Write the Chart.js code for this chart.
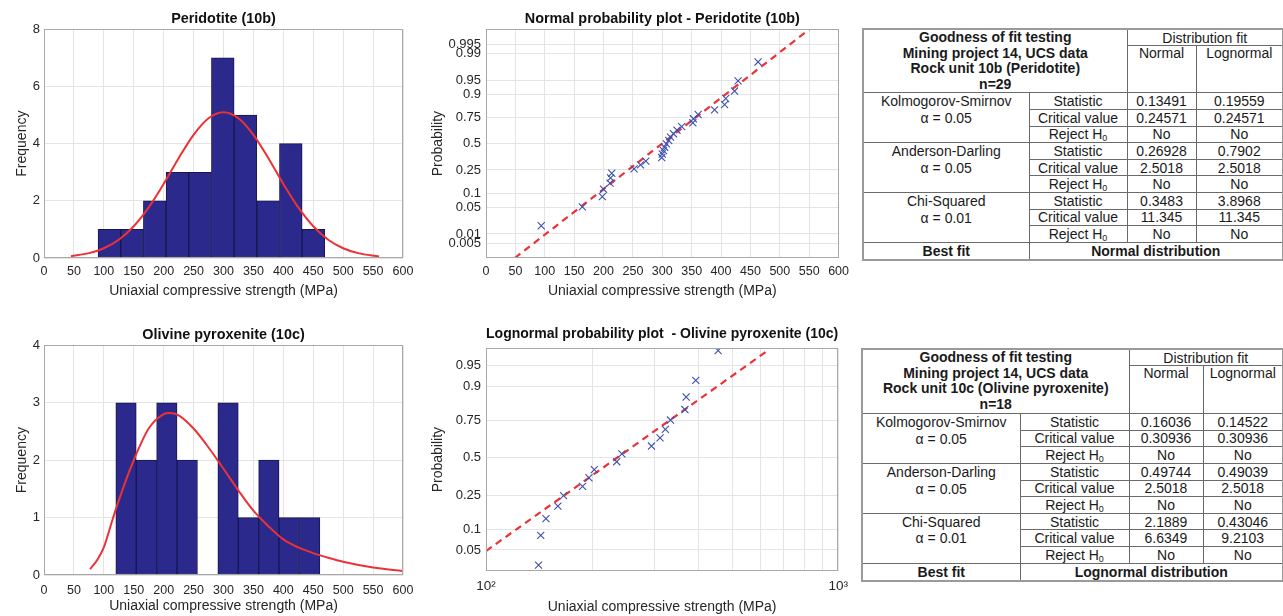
<!DOCTYPE html>
<html>
<head>
<meta charset="utf-8">
<script src="https://cdn.jsdelivr.net/npm/chart.js@4.4.1/dist/chart.umd.min.js"></script>
<style>
  body { margin: 0; background: #fff; }
  #wrap { position: relative; width: 1283px; height: 616px; overflow: hidden; font-family: "Liberation Sans", Arial, sans-serif; }
  canvas { position: absolute; }
  table.gof { position: absolute; border-collapse: collapse; table-layout: fixed; border: 2px solid #9a9a9a; color: #1a1a1a; font-size: 14px; }
  table.gof td { border: 1px solid #6a6a6a; padding: 0; text-align: center; line-height: 14px; white-space: nowrap; overflow: hidden; }
  table.gof td.head { font-weight: bold; vertical-align: top; line-height: 15.6px; }
  table.gof td.top { vertical-align: top; line-height: 15.6px; }
  table.gof td.b { font-weight: bold; }
  table.gof sub { font-size: 9px; line-height: 0; vertical-align: -2px; }
</style>
</head>
<body>
<div id="wrap">
  <canvas id="histPeri" width="425" height="305" style="left:0;top:0"></canvas>
  <canvas id="probPeri" width="430" height="305" style="left:425px;top:0"></canvas>
  <canvas id="histOliv" width="425" height="306" style="left:0;top:310px"></canvas>
  <canvas id="probOliv" width="430" height="306" style="left:425px;top:310px"></canvas>
  <table class="gof" id="tabPeri" style="left:862px;top:28px"></table>
  <table class="gof" id="tabOliv" style="left:861px;top:348px"></table>
</div>
<script>
// Peridotite (10b) histogram
const periBinCenters = [109.3, 147.2, 185.1, 223.0, 260.9, 298.8, 336.7, 374.6, 412.5, 450.4];
const periCounts = [1, 1, 2, 3, 3, 7, 5, 2, 4, 1];
const periFitX = [45, 75, 100, 125, 150, 175, 200, 225, 250, 275, 300, 325, 350, 375, 400, 425, 450, 475, 500, 525, 560];
const periFitY = [0.06, 0.17, 0.34, 0.64, 1.11, 1.77, 2.59, 3.49, 4.31, 4.89, 5.1, 4.89, 4.31, 3.49, 2.59, 1.77, 1.11, 0.64, 0.34, 0.17, 0.05];

// Peridotite normal probability plot
const periUcs = [94, 164, 198, 200, 211, 212, 214, 252, 263, 272, 299, 300, 302, 304, 307, 311, 314, 319, 325, 333, 352, 353, 361, 389, 406, 408, 423, 429, 463];
const periProb = [0.0172, 0.0517, 0.0862, 0.1207, 0.1552, 0.1897, 0.2241, 0.2586, 0.2931, 0.3276, 0.3621, 0.3966, 0.4310, 0.4655, 0.5000,
  0.5345, 0.5690, 0.6034, 0.6379, 0.6724, 0.7069, 0.7414, 0.7759, 0.8103, 0.8448, 0.8793, 0.9138, 0.9483, 0.9828];
const periLineX = [49, 551];
const periLineP = [0.0016, 0.9985];
const periProbTicks = [0.005, 0.01, 0.05, 0.1, 0.25, 0.5, 0.75, 0.9, 0.95, 0.99, 0.995];

// Olivine pyroxenite (10c) histogram
const olivBinCenters = [137.1, 171.2, 205.3, 239.4, 273.5, 307.6, 341.7, 375.8, 409.9, 444.0];
const olivCounts = [3, 2, 3, 2, 0, 3, 1, 2, 1, 1];
const olivFitX = [77, 90, 100, 115, 125, 150, 175, 200, 210, 225, 250, 275, 300, 325, 350, 375, 400, 425, 450, 475, 500, 550, 600];
const olivFitY = [0.1, 0.28, 0.48, 0.98, 1.3, 2.0, 2.55, 2.8, 2.82, 2.78, 2.55, 2.22, 1.85, 1.47, 1.12, 0.85, 0.62, 0.48, 0.38, 0.3, 0.23, 0.13, 0.07];

// Olivine pyroxenite lognormal probability plot
const olivUcs = [141, 143, 148, 160, 166, 188, 196, 203, 235, 243, 295, 312, 323, 334, 367, 370, 394, 456];
const olivProb = [0.0278, 0.0833, 0.1389, 0.1944, 0.2500, 0.3056, 0.3611, 0.4167, 0.4722, 0.5278, 0.5833, 0.6389, 0.6944, 0.7500,
  0.8056, 0.8611, 0.9167, 0.9722];
const olivLineX = [100, 638];
const olivLineP = [0.0482, 0.9736];
const olivProbTicks = [0.05, 0.1, 0.25, 0.5, 0.75, 0.9, 0.95];
const olivLogTicks = [100, 200, 300, 400, 500, 600, 700, 800, 900, 1000];

// goodness of fit tables
const gofTests = ['Kolmogorov-Smirnov', 'Anderson-Darling', 'Chi-Squared'];
const gofAlphas = ['α = 0.05', 'α = 0.05', 'α = 0.01'];
const gofRows = ['Statistic', 'Critical value', 'Reject H<sub>0</sub>'];
const periHeader = ['Goodness of fit testing', 'Mining project 14, UCS data', 'Rock unit 10b (Peridotite)', 'n=29'];
const periNormal = ['0.13491', '0.24571', 'No', '0.26928', '2.5018', 'No', '0.3483', '11.345', 'No'];
const periLognormal = ['0.19559', '0.24571', 'No', '0.7902', '2.5018', 'No', '3.8968', '11.345', 'No'];
const periBest = 'Normal distribution';
const olivHeader = ['Goodness of fit testing', 'Mining project 14, UCS data', 'Rock unit 10c (Olivine pyroxenite)', 'n=18'];
const olivNormal = ['0.16036', '0.30936', 'No', '0.49744', '2.5018', 'No', '2.1889', '6.6349', 'No'];
const olivLognormal = ['0.14522', '0.30936', 'No', '0.49039', '2.5018', 'No', '0.43046', '9.2103', 'No'];
const olivBest = 'Lognormal distribution';

// inverse normal cdf (Acklam)
function probit(p) {
  const a = [-39.69683028665376, 220.9460984245205, -275.9285104469687, 138.3577518672690, -30.66479806614716, 2.506628277459239];
  const b = [-54.47609879822406, 161.5858368580409, -155.6989798598866, 66.80131188771972, -13.28068155288572];
  const c = [-0.007784894002430293, -0.3223964580411365, -2.400758277161838, -2.549732539343734, 4.374664141464968, 2.938163982698783];
  const d = [0.007784695709041462, 0.3224671290700398, 2.445134137142996, 3.754408661907416];
  const lo = 0.02425;
  let q, r;
  if (p < lo) {
    q = Math.sqrt(-2 * Math.log(p));
    return (((((c[0]*q+c[1])*q+c[2])*q+c[3])*q+c[4])*q+c[5]) / ((((d[0]*q+d[1])*q+d[2])*q+d[3])*q+1);
  }
  if (p > 1 - lo) {
    q = Math.sqrt(-2 * Math.log(1 - p));
    return -(((((c[0]*q+c[1])*q+c[2])*q+c[3])*q+c[4])*q+c[5]) / ((((d[0]*q+d[1])*q+d[2])*q+d[3])*q+1);
  }
  q = p - 0.5; r = q * q;
  return (((((a[0]*r+a[1])*r+a[2])*r+a[3])*r+a[4])*r+a[5])*q / (((((b[0]*r+b[1])*r+b[2])*r+b[3])*r+b[4])*r+1);
}

Chart.defaults.font.family = '"Liberation Sans", Arial, sans-serif';
Chart.defaults.color = '#262626';

const GRID = '#e4e4e4';
const RED = '#ec3236';

// grey box round the plot area, like matlab
Chart.register({
  id: 'axbox',
  afterDraw(chart) {
    const a = chart.chartArea, ctx = chart.ctx;
    ctx.save();
    ctx.strokeStyle = '#a8a8a8';
    ctx.lineWidth = 1;
    ctx.strokeRect(Math.round(a.left) + 0.5, Math.round(a.top) + 0.5, Math.round(a.width) - 1, Math.round(a.height) - 1);
    ctx.restore();
  }
});

const pts = (xs, ys) => xs.map((x, i) => ({ x: x, y: ys[i] }));
const probPts = (xs, ps) => xs.map((x, i) => ({ x: x, y: probit(ps[i]) }));

function xTitle(pb) {
  return { display: true, text: 'Uniaxial compressive strength (MPa)', font: { size: 14 }, padding: { top: 0, bottom: pb } };
}
function plotTitle(text, pad) {
  return { display: true, text: text, fullSize: false, font: { size: 14.4, weight: 'bold' }, color: '#111', padding: pad };
}

function histChart(id, title, centers, counts, fitX, fitY, yMax, yStep, lay) {
  new Chart(document.getElementById(id), {
    type: 'bar',
    data: {
      datasets: [{
        type: 'line',
        data: pts(fitX, fitY),
        borderColor: RED,
        borderWidth: 2,
        pointRadius: 0,
        cubicInterpolationMode: 'monotone',
        order: 0
      }, {
        type: 'bar',
        data: pts(centers, counts),
        backgroundColor: '#2b2a8c',
        borderColor: '#17164f',
        borderWidth: 1,
        borderSkipped: false,
        barPercentage: 1,
        categoryPercentage: 1,
        order: 1
      }]
    },
    options: {
      responsive: false,
      animation: false,
      layout: { padding: { left: 0, right: lay.right, top: 0, bottom: 0 } },
      plugins: {
        legend: { display: false },
        tooltip: { enabled: false },
        title: plotTitle(title, lay.title)
      },
      scales: {
        x: {
          type: 'linear', min: 0, max: 600, offset: false,
          grid: { color: GRID, drawTicks: false, offset: false },
          border: { display: false },
          ticks: { stepSize: 50, autoSkip: false, maxRotation: 0, padding: lay.tp, font: { size: 12.5 } },
          title: xTitle(lay.xpb),
          afterFit: s => { s.height = lay.xh; }
        },
        y: {
          min: 0, max: yMax,
          grid: { color: GRID, drawTicks: false },
          border: { display: false },
          ticks: { stepSize: yStep, padding: 4, font: { size: 13 } },
          title: { display: true, text: 'Frequency', font: { size: 14 }, padding: { top: 13.3, bottom: 0 } },
          afterFit: s => { s.width = 44; }
        }
      }
    }
  });
}

function probChart(id, title, xs, ps, lineX, lineP, probTicks, xScale, yLo, yHi, lay) {
  new Chart(document.getElementById(id), {
    type: 'scatter',
    data: {
      datasets: [{
        data: probPts(xs, ps),
        pointStyle: 'crossRot',
        pointRadius: 5,
        borderColor: '#3e4fb0',
        borderWidth: 1.1,
        backgroundColor: 'transparent',
        order: 0
      }, {
        type: 'line',
        data: probPts(lineX, lineP),
        borderColor: RED,
        borderWidth: 2.2,
        borderDash: [7, 5],
        pointRadius: 0,
        order: 1
      }]
    },
    options: {
      responsive: false,
      animation: false,
      layout: { padding: { left: 0, right: 11, top: 0, bottom: 0 } },
      plugins: {
        legend: { display: false },
        tooltip: { enabled: false },
        title: plotTitle(title, lay.title)
      },
      scales: {
        x: Object.assign({
          grid: { color: GRID, drawTicks: false },
          border: { display: false },
          title: xTitle(lay.xpb),
          afterFit: s => { s.height = lay.xh; }
        }, xScale),
        y: {
          type: 'linear', min: probit(yLo), max: probit(yHi),
          grid: { color: GRID, drawTicks: false },
          border: { display: false },
          afterBuildTicks: s => { s.ticks = probTicks.map(p => ({ value: probit(p) })); },
          ticks: { autoSkip: false, padding: 5, font: { size: 13 }, callback: (v, i) => String(probTicks[i]) },
          title: { display: true, text: 'Probability', font: { size: 14 }, padding: { top: 4.3, bottom: 0 } },
          afterFit: s => { s.width = 61; }
        }
      }
    }
  });
}

histChart('histPeri', 'Peridotite (10b)', periBinCenters, periCounts, periFitX, periFitY, 8, 2,
  { right: 22, title: { top: 10.4, bottom: 1.6 }, xh: 47, xpb: 5.6, tp: 6 });
histChart('histOliv', 'Olivine pyroxenite (10c)', olivBinCenters, olivCounts, olivFitX, olivFitY, 4, 1,
  { right: 22, title: { top: 16.4, bottom: 1.6 }, xh: 41, xpb: 1.5, tp: 8 });

probChart('probPeri', 'Normal probability plot - Peridotite (10b)', periUcs, periProb, periLineX, periLineP, periProbTicks,
  { type: 'linear', min: 0, max: 600, ticks: { stepSize: 50, autoSkip: false, maxRotation: 0, padding: 6, font: { size: 12.5 } } },
  0.0016, 0.99846, { title: { top: 10.4, bottom: 1.6 }, xh: 47, xpb: 5.6 });
probChart('probOliv', 'Lognormal probability plot  - Olivine pyroxenite (10c)', olivUcs, olivProb, olivLineX, olivLineP, olivProbTicks,
  { type: 'logarithmic', min: 100, max: 1000,
    afterBuildTicks: s => { s.ticks = olivLogTicks.map(v => ({ value: v })); },
    ticks: { autoSkip: false, maxRotation: 0, padding: 7, font: { size: 13.5 },
      callback: v => (v === 100 ? '10²' : v === 1000 ? '10³' : '') } },
  0.0217, 0.9747, { title: { top: 15.7, bottom: 5.3 }, xh: 45, xpb: 0 });

// tables
function buildTable(id, cols, header, normal, lognormal, best, rowH) {
  let h = '<colgroup>' + cols.map(w => '<col style="width:' + w + 'px">').join('') + '</colgroup>';
  h += '<tr style="height:' + rowH.h1 + 'px"><td class="head" colspan="2" rowspan="2">' + header.join('<br>') +
    '</td><td colspan="2">Distribution fit</td></tr>';
  h += '<tr style="height:' + rowH.h2 + 'px"><td class="top">Normal</td><td class="top">Lognormal</td></tr>';
  gofTests.forEach((t, k) => {
    gofRows.forEach((r, j) => {
      const i = k * 3 + j;
      h += '<tr style="height:' + rowH.row + 'px">';
      if (j === 0) h += '<td class="top" rowspan="3" style="line-height:' + rowH.row + 'px">' + t + '<br>' + gofAlphas[k] + '</td>';
      h += '<td>' + r + '</td><td>' + normal[i] + '</td><td>' + lognormal[i] + '</td></tr>';
    });
  });
  h += '<tr style="height:' + rowH.best + 'px"><td class="b">Best fit</td><td class="b" colspan="3">' + best + '</td></tr>';
  const tb = document.getElementById(id);
  tb.innerHTML = h;
  tb.style.width = cols.reduce((a, b) => a + b, 0) + 'px';
}

buildTable('tabPeri', [166, 98, 69, 87], periHeader, periNormal, periLognormal, periBest, { h1: 16.7, h2: 47.3, row: 16.6, best: 17.6 });
buildTable('tabOliv', [158, 109, 74, 80], olivHeader, olivNormal, olivLognormal, olivBest, { h1: 16.7, h2: 47.7, row: 16.67, best: 17.3 });
</script>
</body>
</html>
